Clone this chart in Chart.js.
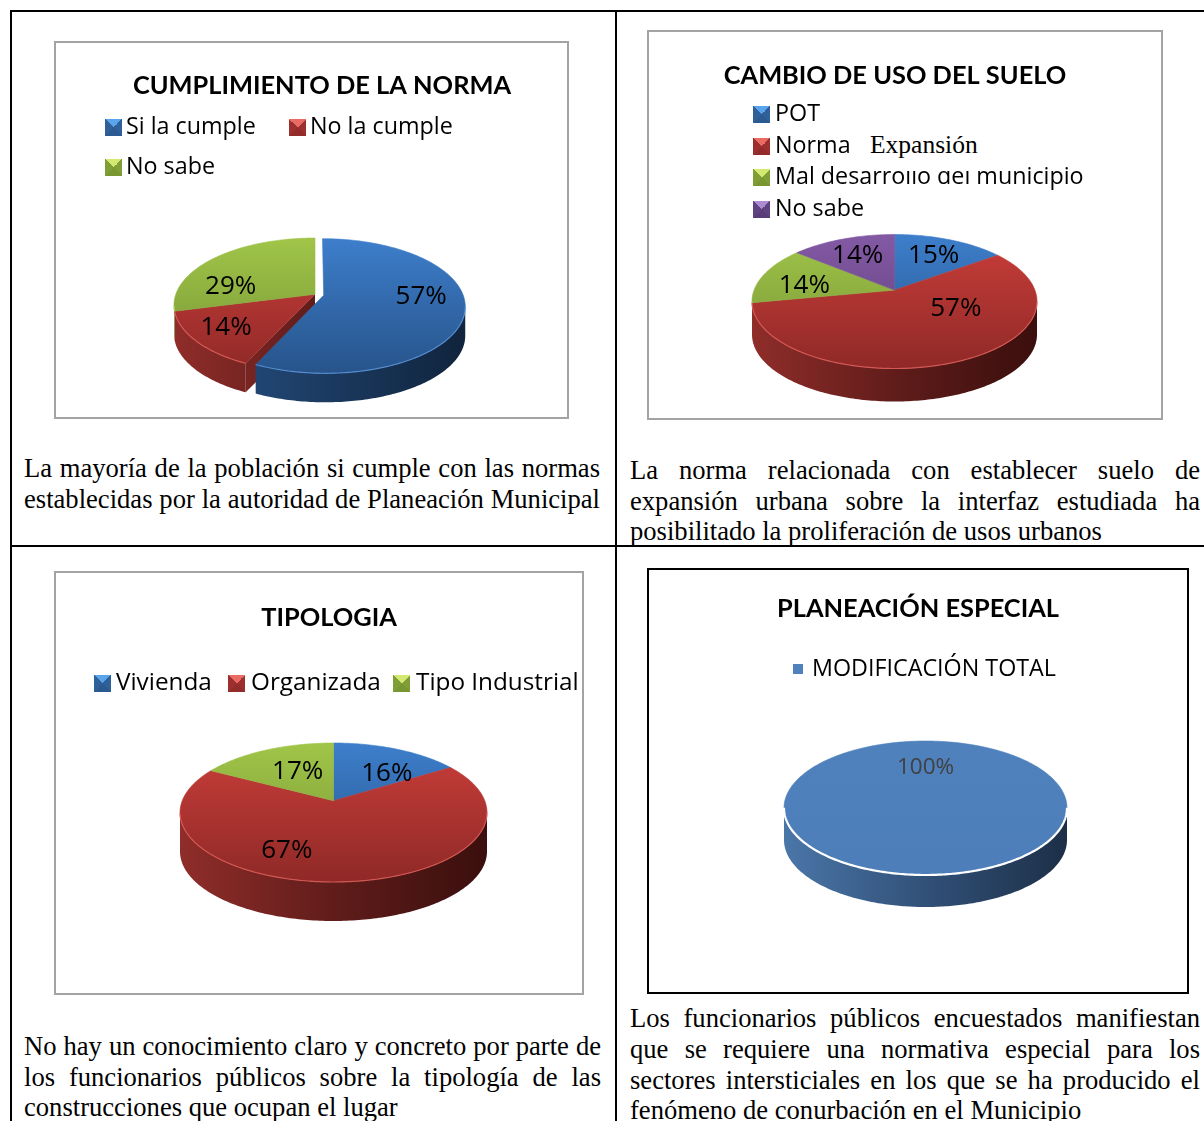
<!DOCTYPE html>
<html lang="es">
<head>
<meta charset="utf-8">
<title>Encuesta</title>
<script src="https://cdn.jsdelivr.net/npm/chart.js@4/dist/chart.umd.min.js"></script>
<style>
  html, body { margin: 0; padding: 0; background: #fff; }
  #page { position: relative; width: 1204px; height: 1121px; overflow: hidden; background: #fff; }
  .rule { position: absolute; background: #000; }
  .box { position: absolute; box-sizing: border-box; border: 2px solid #a3a3a3; background: #fff; }
  canvas { position: absolute; }
  .leg { position: absolute; font: 23.3px "Open Sans", sans-serif; color: #000; white-space: nowrap; line-height: 30px; }
  .sw { position: absolute; width: 17px; height: 17px; }
  .sw.flat { width: 10px; height: 10px; }
  .over { position: absolute; font: 25.5px "Liberation Serif", serif; background: #fff; white-space: nowrap; color: #000; }
  .cap { position: absolute; font: 26.6px "Liberation Serif", serif; color: #000; }
  .cap div { position: absolute; left: 0; white-space: nowrap; line-height: 30px; }
  .cap div.just { text-align: justify; text-align-last: justify; }
</style>
</head>
<body>
<div id="page"></div>
<script>
// Datos de las cuatro encuestas
const labelsNorma = ["Si la cumple", "No la cumple", "No sabe"];
const valuesNorma = [57, 14, 29];

const labelsSuelo = ["POT", "Norma Expansión", "Mal desarrollo del municipio", "No sabe"];
const valuesSuelo = [15, 57, 14, 14];

const labelsTipologia = ["Vivienda", "Organizada", "Tipo Industrial"];
const valuesTipologia = [16, 67, 17];

const labelsEspecial = ["MODIFICACIÓN TOTAL"];
const valuesEspecial = [100];

// Colores: cara superior, lado y borde de cada porción
const AZUL = "#3a74bd", ROJO = "#c83c39", VERDE = "#9bbf45", MORADO = "#7f559f", AZUL_PLANO = "#4f81bd";
const ramps = {
  [AZUL]: { top: "#3d7ecb", bottom: "#27548b", side: ["#28538a", "#1b3a60", "#11253f"], rim: "rgba(90,150,220,.8)", sw: ["#5aa4ec", "#2f6099", "#2a5a90"] },
  [ROJO]: { top: "#ca3e3a", bottom: "#8f2927", side: ["#8f2d2a", "#5c1b19", "#3a0f0d"], rim: "rgba(225,95,90,.8)", sw: ["#ea6a64", "#9c302e", "#922b29"] },
  [VERDE]: { top: "#a0c548", bottom: "#759436", side: ["#6b8a30", "#556e26", "#46591f"], rim: "rgba(180,215,95,.8)", sw: ["#d3e870", "#7f9f36", "#789632"] },
  [MORADO]: { top: "#8359a4", bottom: "#5e3f7a", side: ["#553a70", "#402b54", "#30203f"], rim: "rgba(150,115,185,.8)", sw: ["#ac8bd0", "#5f4280", "#593d78"] },
  [AZUL_PLANO]: { top: "#4f81bd", bottom: "#4d7eb9", side: ["#4a76a8", "#2f4d73", "#1d2f47"], rim: "#ffffff", sw: null },
};

const page = document.getElementById("page");

function addRule(x, y, w, h) {
  const d = document.createElement("div");
  d.className = "rule";
  d.style.cssText = `left:${x}px;top:${y}px;width:${w}px;height:${h}px`;
  page.appendChild(d);
}
addRule(10, 10, 1194, 2);
addRule(10, 10, 2, 1111);
addRule(615, 10, 2, 1111);
addRule(10, 545, 1194, 2);

// Plugin: dibuja la torta en perspectiva con los ángulos que calcula Chart.js
const pie3d = {
  id: "pie3d",
  beforeDatasetDraw(chart, args, o) {
    const { ctx } = chart;
    const arcs = chart.getDatasetMeta(args.index).data;
    const rx = arcs[0].outerRadius;
    const cx = o.cx - chart.canvas.offsetLeft, cy = o.cy - chart.canvas.offsetTop;
    const e = o.tilt, s = Math.sqrt(1 - e * e);

    const project = (u, v) => {
      const den = 1 - e * v;
      return [cx + rx * u * s / den, cy + o.ry * (v - e) / den];
    };
    const isOut = (a) => (a.options.offset || 0) > 0;
    const shiftOf = (arc) => {
      const off = (arc.options.offset || 0) / rx;
      const mid = (arc.startAngle + arc.endAngle) / 2;
      return [off * Math.cos(mid), off * Math.sin(mid)];
    };
    const rimPoints = (arc) => {
      const [dx, dy] = shiftOf(arc);
      const n = Math.max(2, Math.ceil((arc.endAngle - arc.startAngle) * 60));
      const pts = [];
      for (let i = 0; i <= n; i++) {
        const a = arc.startAngle + (arc.endAngle - arc.startAngle) * i / n;
        pts.push(project(Math.cos(a) + dx, Math.sin(a) + dy));
      }
      return pts;
    };
    const frontOf = (arc) => {
      const [, dy] = shiftOf(arc);
      return rimPoints(arc).filter((p) => p[1] >= cy + dy * o.ry - 0.5);
    };
    const sideFill = (ramp) => {
      const g = ctx.createLinearGradient(cx - rx, 0, cx + rx, 0);
      g.addColorStop(0, ramp.side[0]);
      g.addColorStop(0.55, ramp.side[1]);
      g.addColorStop(1, ramp.side[2]);
      return g;
    };

    const drawWalls = (arc) => {
      const ramp = ramps[arc.options.backgroundColor];
      const [dx, dy] = shiftOf(arc);
      const apex = project(dx, dy);
      const pts = rimPoints(arc);
      const i = arcs.indexOf(arc), n = arcs.length;
      ctx.fillStyle = sideFill(ramp);

      // caras de corte, solo junto a la porción separada
      const cuts = [];
      if (isOut(arcs[(i + n - 1) % n]) && !isOut(arc)) cuts.push(pts[0]);
      if (isOut(arcs[(i + 1) % n]) && !isOut(arc)) cuts.push(pts[pts.length - 1]);
      cuts.forEach((p) => {
        ctx.beginPath();
        ctx.moveTo(apex[0], apex[1]);
        ctx.lineTo(p[0], p[1]);
        ctx.lineTo(p[0], p[1] + o.depth);
        ctx.lineTo(apex[0], apex[1] + o.depth);
        ctx.closePath();
        ctx.fill();
      });

      // lado curvo, solo la parte que mira al frente
      const front = frontOf(arc);
      if (front.length > 1) {
        ctx.beginPath();
        front.forEach((p, k) => (k ? ctx.lineTo(p[0], p[1]) : ctx.moveTo(p[0], p[1])));
        front.slice().reverse().forEach((p) => ctx.lineTo(p[0], p[1] + o.depth));
        ctx.closePath();
        ctx.fill();
      }
    };

    const drawTop = (arc) => {
      const ramp = ramps[arc.options.backgroundColor];
      const [dx, dy] = shiftOf(arc);
      const apex = project(dx, dy);
      const pts = rimPoints(arc);
      const whole = arc.endAngle - arc.startAngle > 6.28;

      const g = ctx.createLinearGradient(0, cy - o.ry, 0, cy + o.ry);
      g.addColorStop(0, ramp.top);
      g.addColorStop(1, ramp.bottom);
      ctx.fillStyle = g;
      ctx.strokeStyle = g;
      ctx.lineWidth = 0.6;
      ctx.beginPath();
      if (!whole) ctx.moveTo(apex[0], apex[1]);
      pts.forEach((p, i) => (i || !whole ? ctx.lineTo(p[0], p[1]) : ctx.moveTo(p[0], p[1])));
      ctx.closePath();
      ctx.fill();
      ctx.stroke();

      // brillo del borde frontal
      const front = frontOf(arc);
      if (front.length > 1) {
        ctx.strokeStyle = ramp.rim;
        ctx.lineWidth = o.rimWidth;
        ctx.beginPath();
        front.forEach((p, i) => (i ? ctx.lineTo(p[0], p[1]) : ctx.moveTo(p[0], p[1])));
        ctx.stroke();
      }
    };

    ctx.save();
    const back = arcs.filter((a) => !isOut(a));
    back.forEach(drawWalls);
    back.forEach(drawTop);
    arcs.filter(isOut).forEach((a) => {
      drawWalls(a);
      drawTop(a);
    });

    // etiquetas de porcentaje
    const data = chart.data.datasets[args.index].data;
    ctx.font = o.labelFont;
    ctx.fillStyle = o.labelColor;
    ctx.textAlign = "center";
    ctx.textBaseline = "middle";
    arcs.forEach((arc, i) => {
      const mid = (arc.startAngle + arc.endAngle) / 2;
      const [dx, dy] = shiftOf(arc);
      const p = project(0.62 * Math.cos(mid) + dx, 0.62 * Math.sin(mid) + dy);
      const nudge = o.labelShift[i];
      ctx.fillText(data[i] + "%", p[0] + nudge[0], p[1] + nudge[1]);
    });
    ctx.restore();
    return false;
  },
};
Chart.register(pie3d);

function addChart(c) {
  const box = document.createElement("div");
  box.className = "box";
  box.style.cssText = `left:${c.box[0]}px;top:${c.box[1]}px;width:${c.box[2]}px;height:${c.box[3]}px;border-color:${c.borderColor || "#a3a3a3"}`;
  page.appendChild(box);

  const canvas = document.createElement("canvas");
  canvas.width = c.canvas[2];
  canvas.height = c.canvas[3];
  canvas.style.cssText = `left:${c.canvas[0]}px;top:${c.canvas[1]}px;width:${c.canvas[2]}px;height:${c.canvas[3]}px`;
  page.appendChild(canvas);

  new Chart(canvas.getContext("2d"), {
    type: "pie",
    data: {
      labels: c.labels,
      datasets: [{
        data: c.values,
        backgroundColor: c.colors,
        borderWidth: 0,
        radius: c.radius,
        offset: c.offset || 0,
      }],
    },
    options: {
      responsive: false,
      animation: false,
      events: [],
      plugins: {
        legend: { display: false },
        tooltip: { enabled: false },
        title: {
          display: true,
          text: c.title,
          color: "#000",
          font: { family: "Lato", weight: "bold", size: 25.4 },
          padding: { top: c.titleTop, bottom: 0 },
        },
        pie3d: {
          cx: c.center[0],
          cy: c.center[1],
          ry: c.ry,
          tilt: c.tilt,
          depth: c.depth,
          rimWidth: c.rimWidth || 1.2,
          labelFont: c.labelFont || '26px "Open Sans"',
          labelColor: c.labelColor || "#000",
          labelShift: c.labelShift,
        },
      },
    },
  });

  // leyenda en HTML, una entrada por etiqueta
  c.labels.forEach((label, i) => {
    const pos = c.legend[i];
    const ramp = ramps[c.colors[i]];
    const sw = document.createElement("div");
    sw.className = ramp.sw ? "sw" : "sw flat";
    sw.style.left = pos[0] + "px";
    sw.style.top = (ramp.sw ? pos[1] - 6 : pos[1] - 3) + "px";
    sw.style.background = ramp.sw
      ? `conic-gradient(from -45deg, ${ramp.sw[0]} 0 90deg, ${ramp.sw[1]} 90deg 180deg, ${ramp.sw[2]} 180deg 270deg, ${ramp.sw[1]} 270deg)`
      : c.colors[i];
    page.appendChild(sw);
    const t = document.createElement("div");
    t.className = "leg";
    t.textContent = label === "Norma Expansión" ? "Norma" : label;
    t.style.left = pos[2] + "px";
    t.style.top = pos[1] - 15 + "px";
    if (c.legendSize) t.style.fontSize = c.legendSize;
    page.appendChild(t);
    if (label === "Norma Expansión") {
      // en el original esta palabra quedó encima del renglón siguiente
      const o = document.createElement("div");
      o.className = "over";
      o.textContent = "Expansión";
      o.style.cssText = "left:856px;top:130px;padding:0 8px 0 14px;height:41px;z-index:3";
      page.appendChild(o);
    }
  });
}

addChart({
  box: [54, 41, 515, 378], canvas: [76, 42, 492, 376], title: "CUMPLIMIENTO DE LA NORMA", titleTop: 29,
  labels: labelsNorma, values: valuesNorma, colors: [AZUL, ROJO, VERDE], offset: [9, 0, 0],
  radius: 141, center: [315, 305], ry: 67, tilt: 0.16, depth: 29,
  labelShift: [[11, -8], [-18, 6], [-20, 16]],
  legend: [[105, 125, 126], [289, 125, 310], [105, 165, 126]],
});

addChart({
  box: [647, 30, 516, 390], canvas: [648, 31, 494, 387], title: "CAMBIO DE USO DEL SUELO", titleTop: 30,
  labels: labelsSuelo, values: valuesSuelo, colors: [AZUL, ROJO, VERDE, MORADO],
  radius: 142.5, center: [894.5, 301.5], ry: 67, tilt: 0.17, depth: 33,
  labelShift: [[3, -2], [23, -23], [-8, 5], [-3, -1]],
  legend: [[753, 112, 775], [753, 144, 775], [753, 175, 775], [753, 207, 775]],
});

addChart({
  box: [54, 571, 530, 424], canvas: [75, 572, 508, 422], title: "TIPOLOGIA", titleTop: 31, legendSize: "24.3px",
  labels: labelsTipologia, values: valuesTipologia, colors: [AZUL, ROJO, VERDE],
  radius: 153.5, center: [333.5, 812.5], ry: 69.5, tilt: 0.17, depth: 39,
  labelShift: [[12, 6], [-50, 3], [8, 4]],
  legend: [[94, 681, 116], [228, 681, 251], [393, 681, 416]],
});

addChart({
  box: [647, 568, 542, 426], borderColor: "#000", canvas: [648, 570, 540, 422], title: "PLANEACIÓN ESPECIAL", titleTop: 24,
  labels: labelsEspecial, values: valuesEspecial, colors: [AZUL_PLANO],
  radius: 141.5, center: [925.5, 808], ry: 67, tilt: 0, depth: 32, rimWidth: 2.2,
  labelFont: '22.5px "Open Sans"', labelColor: "#404040", labelShift: [[0, -82]],
  legend: [[793, 667, 812]],
});

// Textos bajo cada gráfico
const captions = [
  { x: 24, w: 576, lines: [
    [453, "La mayoría de la población si cumple con las normas", true],
    [484, "establecidas por la autoridad de Planeación Municipal", true],
  ] },
  { x: 630, w: 570, lines: [
    [455, "La norma relacionada con establecer suelo de", true],
    [486, "expansión urbana sobre la interfaz estudiada ha", true],
    [516, "posibilitado la proliferación de usos urbanos", false],
  ] },
  { x: 24, w: 577, lines: [
    [1031, "No hay un conocimiento claro y concreto por parte de", true],
    [1062, "los funcionarios públicos sobre la tipología de las", true],
    [1092, "construcciones que ocupan el lugar", false],
  ] },
  { x: 630, w: 570, lines: [
    [1003, "Los funcionarios públicos encuestados manifiestan", true],
    [1034, "que se requiere una normativa especial para los", true],
    [1065, "sectores intersticiales en los que se ha producido el", true],
    [1095, "fenómeno de conurbación en el Municipio", false],
  ] },
];
captions.forEach((c) => {
  const wrap = document.createElement("div");
  wrap.className = "cap";
  wrap.style.cssText = `left:${c.x}px;top:0;width:${c.w}px`;
  c.lines.forEach(([y, text, just]) => {
    const d = document.createElement("div");
    d.textContent = text;
    d.style.top = y + "px";
    if (just) {
      d.className = "just";
      d.style.width = c.w + "px";
    }
    wrap.appendChild(d);
  });
  page.appendChild(wrap);
});
</script>
</body>
</html>
